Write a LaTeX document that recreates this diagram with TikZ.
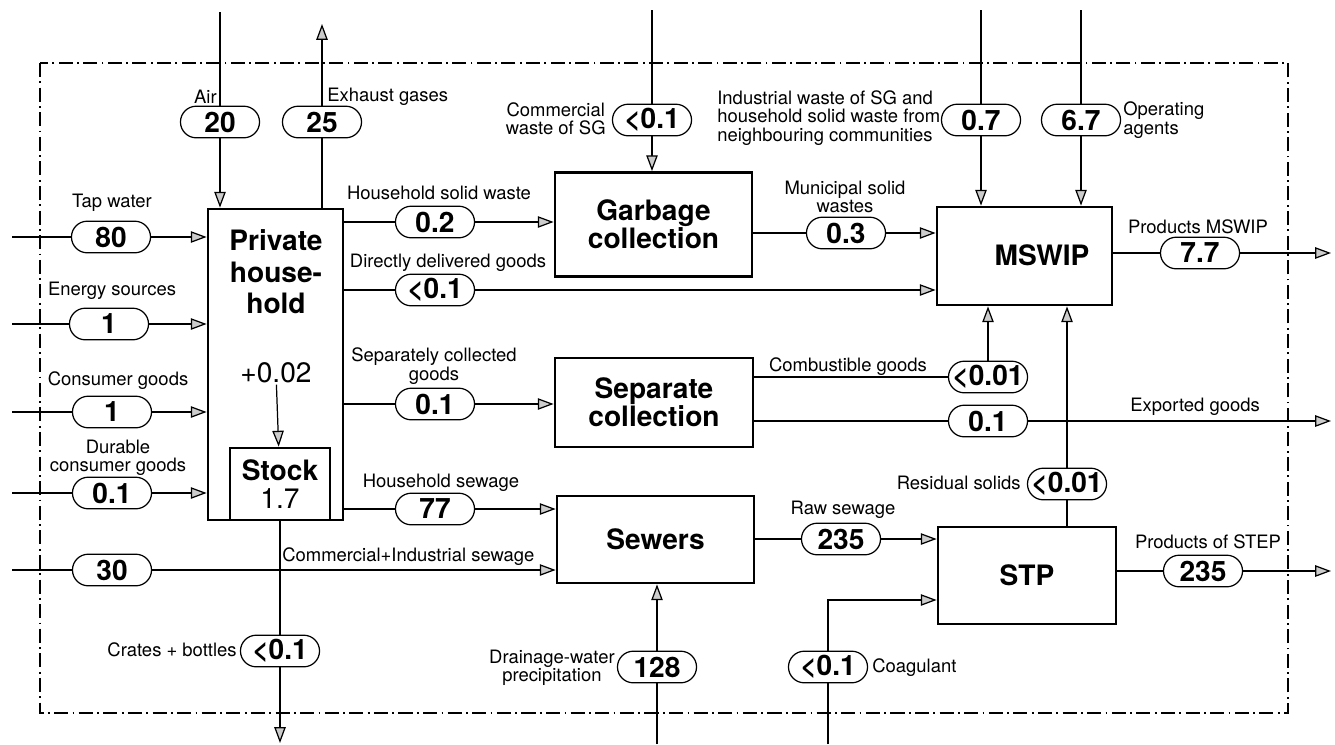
\documentclass[tikz,border=0pt]{standalone}
\usepackage{fontspec}
\setmainfont{TeX Gyre Heros}
\usetikzlibrary{arrows.meta}

\begin{document}
\begin{tikzpicture}[x=0.02cm,y=-0.02cm,
            >={Triangle[length=9pt,width=6.5pt,fill=gray!40]},
            process/.style={draw,line width=1.6pt,inner sep=0pt,align=center,
                font=\fontsize{16}{16}\selectfont\bfseries},
            amount/.style={draw,line width=0.7pt,rounded corners=9pt,fill=white,
                minimum width=45pt,minimum height=18pt,inner sep=0pt,
                font=\fontsize{16}{16}\selectfont\bfseries},
            flowlabel/.style={inner sep=0pt,font=\fontsize{10.5}{10.5}\selectfont},
            flow/.style={line width=0.7pt}]

            \useasboundingbox (0,0) rectangle (1335,744);
            \draw[line width=0.6pt,dash pattern=on 8pt off 2.5pt on 1pt off 2.5pt]
                (40,63) rectangle (1288,713);

            \node[process,minimum width=2.7cm,minimum height=6.22cm] (Household) at (275.5,364.5) {};
            \node[process,draw=none,font=\fontsize{16}{18}\selectfont\bfseries] (HouseholdName) at (276,272) {Private\\house-\\hold};
            \node[process,draw=none,font=\fontsize{16}{16}\selectfont] (StockChange) at (276,373) {+0.02};
            \node[process,minimum width=2cm,minimum height=1.44cm] (Stock) at (280,484) {Stock\\\mdseries 1.7};
            \node[process,minimum width=3.94cm,minimum height=2.08cm] (Garbage) at (653.5,224.5) {Garbage\\collection};
            \node[process,minimum width=3.96cm,minimum height=1.78cm] (Separate) at (654,402.5) {Separate\\collection};
            \node[process,minimum width=3.94cm,minimum height=1.74cm] (Sewers) at (655.5,539.5) {Sewers};
            \node[process,minimum width=3.5cm,minimum height=1.96cm] (MSWIP) at (1024.5,256) {};
            \node[process,draw=none] (MSWIPName) at (1042,255) {MSWIP};
            \node[process,minimum width=3.56cm,minimum height=1.94cm] (STP) at (1027,575.5) {STP};

            \node[amount] (Air) at (220,122) {20};
            \node[amount] (Exhaust) at (322,122) {25};
            \node[amount] (TapWater) at (111,237) {80};
            \node[amount] (Energy) at (109,324) {1};
            \node[amount] (Consumer) at (112,412) {1};
            \node[amount] (Durable) at (112,493) {0.1};
            \node[amount] (CommSewage) at (112,570) {30};
            \node[amount] (Crates) at (280,651) {<0.1};
            \node[amount] (HhWaste) at (435,222) {0.2};
            \node[amount] (Delivered) at (435,290) {<0.1};
            \node[amount] (SepGoods) at (435,404) {0.1};
            \node[amount] (HhSewage) at (435,509) {77};
            \node[amount] (CommWaste) at (652,120) {<0.1};
            \node[amount] (Municipal) at (846,233) {0.3};
            \node[amount] (IndWaste) at (981,120) {0.7};
            \node[amount] (Operating) at (1081,120) {6.7};
            \node[amount] (ProdMSWIP) at (1200,253) {7.7};
            \node[amount] (Combustible) at (988,377) {<0.01};
            \node[amount] (Exported) at (988,421) {0.1};
            \node[amount] (Residual) at (1067,484) {<0.01};
            \node[amount] (RawSewage) at (841,539) {235};
            \node[amount] (Drainage) at (657,667) {128};
            \node[amount] (Coagulant) at (828,667) {<0.1};
            \node[amount] (ProdSTEP) at (1203,571) {235};

            \coordinate (AirIn) at (220,12);
            \coordinate (ExhaustOut) at (322,24);
            \coordinate (TapWaterIn) at (12,237);
            \coordinate (EnergyIn) at (12,324);
            \coordinate (ConsumerIn) at (12,412);
            \coordinate (DurableIn) at (12,493);
            \coordinate (CommSewageIn) at (12,570);
            \coordinate (CratesOut) at (280,743);
            \coordinate (CommWasteIn) at (652,10);
            \coordinate (IndWasteIn) at (981,10);
            \coordinate (OperatingIn) at (1081,10);
            \coordinate (ProdMSWIPOut) at (1331,253);
            \coordinate (ExportedOut) at (1331,421);
            \coordinate (DrainageIn) at (657,744);
            \coordinate (CoagulantIn) at (828,744);
            \coordinate (ProdSTEPOut) at (1331,571);

            \draw[flow,->] (AirIn) -- (Air) -- (Household.north -| Air);
            \draw[flow,->] (Household.north -| Exhaust) -- (Exhaust) -- (ExhaustOut);
            \draw[flow,->] (TapWaterIn) -- (TapWater) -- (Household.west |- TapWater);
            \draw[flow,->] (EnergyIn) -- (Energy) -- (Household.west |- Energy);
            \draw[flow,->] (ConsumerIn) -- (Consumer) -- (Household.west |- Consumer);
            \draw[flow,->] (DurableIn) -- (Durable) -- (Household.west |- Durable);
            \draw[flow,->] (CommSewageIn) -- (CommSewage) -- (Sewers.west |- CommSewage);
            \draw[flow,->] (Household.south -| Crates) -- (Crates) -- (CratesOut);
            \draw[flow,->] (StockChange) -- (Stock);
            \draw[flow,->] (Household.east |- HhWaste) -- (HhWaste) -- (Garbage.west |- HhWaste);
            \draw[flow,->] (Household.east |- Delivered) -- (Delivered) -- (MSWIP.west |- Delivered);
            \draw[flow,->] (Household.east |- SepGoods) -- (SepGoods) -- (Separate.west |- SepGoods);
            \draw[flow,->] (Household.east |- HhSewage) -- (HhSewage) -- (Sewers.west |- HhSewage);
            \draw[flow,->] (CommWasteIn) -- (CommWaste) -- (Garbage.north -| CommWaste);
            \draw[flow,->] (Garbage.east |- Municipal) -- (Municipal) -- (MSWIP.west |- Municipal);
            \draw[flow,->] (IndWasteIn) -- (IndWaste) -- (MSWIP.north -| IndWaste);
            \draw[flow,->] (OperatingIn) -- (Operating) -- (MSWIP.north -| Operating);
            \draw[flow,->] (MSWIP.east |- ProdMSWIP) -- (ProdMSWIP) -- (ProdMSWIPOut);
            \draw[flow] (Separate.east |- Combustible) -- (Combustible);
            \draw[flow,->] (Combustible) -- (MSWIP.south -| Combustible);
            \draw[flow,->] (Separate.east |- Exported) -- (Exported) -- (ExportedOut);
            \draw[flow,->] (STP.north -| Residual) -- (Residual) -- (MSWIP.south -| Residual);
            \draw[flow,->] (Sewers.east |- RawSewage) -- (RawSewage) -- (STP.west |- RawSewage);
            \draw[flow,->] (DrainageIn) -- (Drainage) -- (Sewers.south -| Drainage);
            \draw[flow,->] (CoagulantIn) -- (Coagulant) |- ([yshift=-0.49cm]STP.west);
            \draw[flow,->] (STP.east |- ProdSTEP) -- (ProdSTEP) -- (ProdSTEPOut);

            \node[flowlabel,anchor=east] (AirText) at (217,97) {Air};
            \node[flowlabel,anchor=west] (ExhaustText) at (327,97) {Exhaust gases};
            \node[flowlabel] (TapWaterText) at (112,203) {Tap water};
            \node[flowlabel] (EnergyText) at (112,291) {Energy sources};
            \node[flowlabel] (ConsumerText) at (118,381) {Consumer goods};
            \node[flowlabel,align=center] (DurableText) at (118,458) {Durable\\consumer goods};
            \node[flowlabel,anchor=west] (CommSewageText) at (282,557) {Commercial+Industrial sewage};
            \node[flowlabel,anchor=east] (CratesText) at (237,650) {Crates + bottles};
            \node[flowlabel] (HhWasteText) at (439,193) {Household solid waste};
            \node[flowlabel] (DeliveredText) at (448,263) {Directly delivered goods};
            \node[flowlabel,align=center] (SepGoodsText) at (434,366) {Separately collected\\goods};
            \node[flowlabel] (HhSewageText) at (441,483) {Household sewage};
            \node[flowlabel,anchor=east,align=center] (CommWasteText) at (606,119) {Commercial\\waste of SG};
            \node[flowlabel,align=center,font=\fontsize{10.5}{8.5}\selectfont] (MunicipalText) at (845,197) {Municipal solid\\wastes};
            \node[flowlabel,anchor=west,align=left] (IndWasteText) at (717,118) {Industrial waste of SG and\\household solid waste from\\neighbouring communities};
            \node[flowlabel,anchor=west,align=left] (OperatingText) at (1123,120) {Operating\\agents};
            \node[flowlabel] (ProdMSWIPText) at (1198,227) {Products MSWIP};
            \node[flowlabel] (CombustibleText) at (848,367) {Combustible goods};
            \node[flowlabel] (ExportedText) at (1195,407) {Exported goods};
            \node[flowlabel,anchor=east] (ResidualText) at (1021,483) {Residual solids};
            \node[flowlabel] (RawSewageText) at (843,510) {Raw sewage};
            \node[flowlabel,anchor=east,align=center] (DrainageText) at (615,668) {Drainage-water\\precipitation};
            \node[flowlabel,anchor=west] (CoagulantText) at (872,668) {Coagulant};
            \node[flowlabel] (ProdSTEPText) at (1208,542) {Products of STEP};
        \end{tikzpicture}
\end{document}
